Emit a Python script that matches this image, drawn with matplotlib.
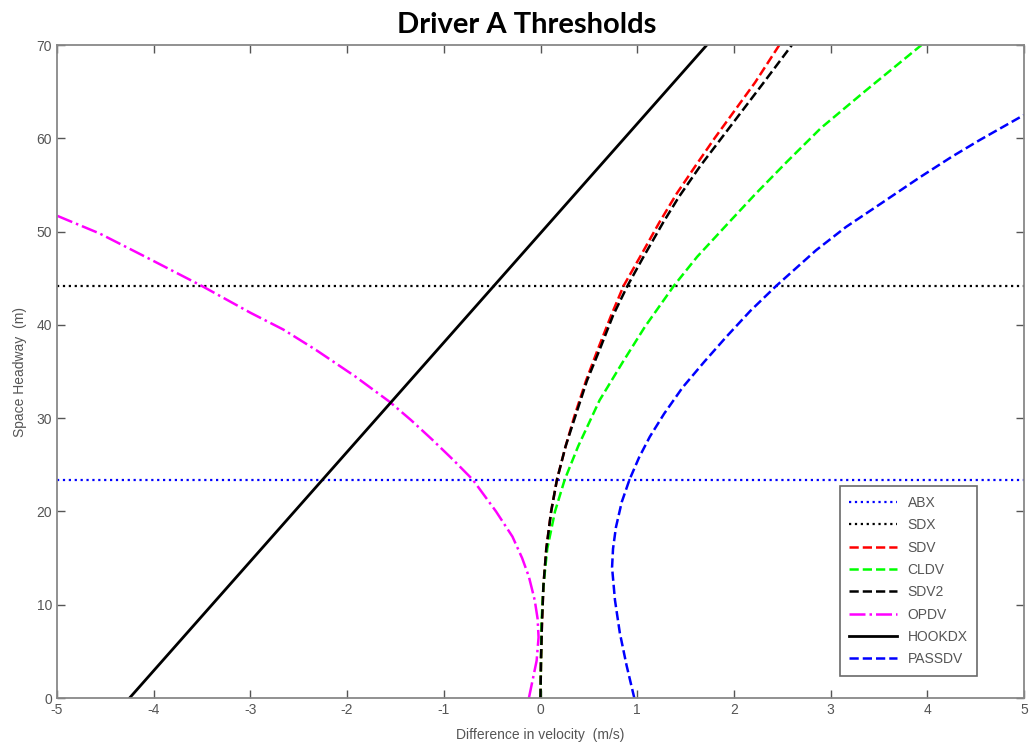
import numpy as np
import matplotlib.pyplot as plt

# Threshold levels (m)
abx_level = 23.36
sdx_level = 44.16

# HOOKDX: straight line dv -> dx
hookdx_dv = [-4.25, 1.72]
hookdx_dx = [0.0, 70.0]

# SDV (red dashed)
sdv_dx = [0.0, 4.0, 8.0, 12.0, 16.0, 20.0, 23.4, 27.0, 30.2, 34.0, 37.3, 41.0,
          44.2, 47.3, 51.0, 54.1, 57.0, 60.0, 63.0, 66.0, 70.0]
sdv_dv = [0.0, 0.005, 0.015, 0.03, 0.06, 0.11, 0.17, 0.26, 0.35, 0.47, 0.59, 0.73,
          0.86, 1.03, 1.23, 1.41, 1.60, 1.80, 2.01, 2.22, 2.47]

# SDV2 (black dashed)
sdv2_dx = [0.0, 4.0, 8.0, 12.0, 16.0, 20.0, 23.4, 27.0, 30.2, 34.0, 37.3, 41.0,
           44.2, 47.2, 51.0, 53.7, 57.0, 60.0, 63.0, 66.0, 70.0]
sdv2_dv = [0.0, 0.005, 0.015, 0.03, 0.06, 0.11, 0.17, 0.26, 0.36, 0.48, 0.61, 0.75,
           0.90, 1.06, 1.27, 1.43, 1.65, 1.87, 2.09, 2.31, 2.60]

# CLDV (green dashed)
cldv_dx = [0.0, 4.0, 8.0, 12.0, 16.0, 20.0, 23.4, 27.0, 31.9, 36.0, 39.8, 44.2,
           47.3, 51.0, 54.0, 57.5, 61.1, 65.0, 70.0]
cldv_dv = [0.0, 0.005, 0.01, 0.03, 0.07, 0.15, 0.25, 0.39, 0.61, 0.85, 1.08, 1.38,
           1.62, 1.95, 2.22, 2.55, 2.90, 3.35, 3.94]

# OPDV (magenta dash-dot)
opdv_dx = [0.0, 2.0, 4.0, 6.5, 8.5, 10.5, 13.0, 15.0, 17.3, 20.0, 23.4, 25.5,
           27.7, 29.8, 31.75, 34.5, 37.3, 39.5, 41.3, 44.16, 47.0, 49.8, 51.7]
opdv_dv = [-0.12, -0.08, -0.04, -0.02, -0.03, -0.06, -0.12, -0.19, -0.29, -0.46, -0.70, -0.90,
           -1.12, -1.34, -1.56, -1.92, -2.32, -2.66, -3.00, -3.50, -4.03, -4.56, -5.0]

# PASSDV (blue dashed)
passdv_dx = [0.0, 3.5, 7.0, 10.5, 14.0, 16.0, 18.3, 21.0, 23.4, 25.8, 28.0, 30.5,
             33.3, 36.0, 38.7, 41.5, 44.2, 48.0, 50.5, 53.0, 55.8, 58.0, 59.8, 62.5]
passdv_dv = [0.97, 0.89, 0.82, 0.77, 0.74, 0.75, 0.78, 0.84, 0.92, 1.02, 1.13, 1.28,
             1.47, 1.69, 1.92, 2.17, 2.44, 2.85, 3.16, 3.52, 3.92, 4.25, 4.54, 5.0]

xticks = list(range(-5, 6))
yticks = list(range(0, 71, 10))

tick_grey = '#555555'
plt.rcParams['font.family'] = ['Liberation Sans', 'DejaVu Sans']

fig = plt.figure(figsize=(10.31, 7.44), dpi=100)
ax = fig.add_axes([0.0553, 0.0618, 0.9379, 0.8777])

ax.plot([-5, 5], [abx_level, abx_level], color='b', linestyle=':', lw=1.6, label='ABX')
ax.plot([-5, 5], [sdx_level, sdx_level], color='k', linestyle=':', lw=1.6, label='SDX')
ax.plot(sdv_dv, sdv_dx, color='r', linestyle='--', lw=1.8, label='SDV')
ax.plot(cldv_dv, cldv_dx, color='#00ff00', linestyle='--', lw=1.8, label='CLDV')
ax.plot(sdv2_dv, sdv2_dx, color='k', linestyle='--', lw=1.8, label='SDV2')
ax.plot(opdv_dv, opdv_dx, color='#ff00ff', linestyle='-.', lw=1.8, label='OPDV')
ax.plot(hookdx_dv, hookdx_dx, color='k', linestyle='-', lw=2.0, label='HOOKDX')
ax.plot(passdv_dv, passdv_dx, color='b', linestyle='--', lw=1.8, label='PASSDV')

ax.set_xlim(-5, 5)
ax.set_ylim(0, 70)
ax.set_xticks(xticks)
ax.set_yticks(yticks)
ax.set_xticklabels([str(t) for t in xticks])
ax.tick_params(direction='in', length=6, width=1, top=True, right=True,
               colors=tick_grey, labelsize=10, labelcolor=tick_grey)
for side in ax.spines.values():
    side.set_color('#888888')
    side.set_linewidth(1.3)

ax.set_xlabel('Difference in velocity  (m/s)', fontsize=10, color=tick_grey, labelpad=8)
ax.set_ylabel('Space Headway  (m)', fontsize=10, color=tick_grey, labelpad=7)
ax.set_title('Driver A Thresholds', fontsize=21, fontweight='bold', family='Lato',
             x=0.486, pad=9)

leg = ax.legend(loc='lower right', bbox_to_anchor=(0.959, 0.023), fontsize=10,
                frameon=True, fancybox=False, edgecolor='#444444',
                handlelength=3.4, labelspacing=0.6, borderpad=0.7)
for txt in leg.get_texts():
    txt.set_color(tick_grey)
leg.get_frame().set_linewidth(1.2)

fig.savefig('out.png', dpi=100)
